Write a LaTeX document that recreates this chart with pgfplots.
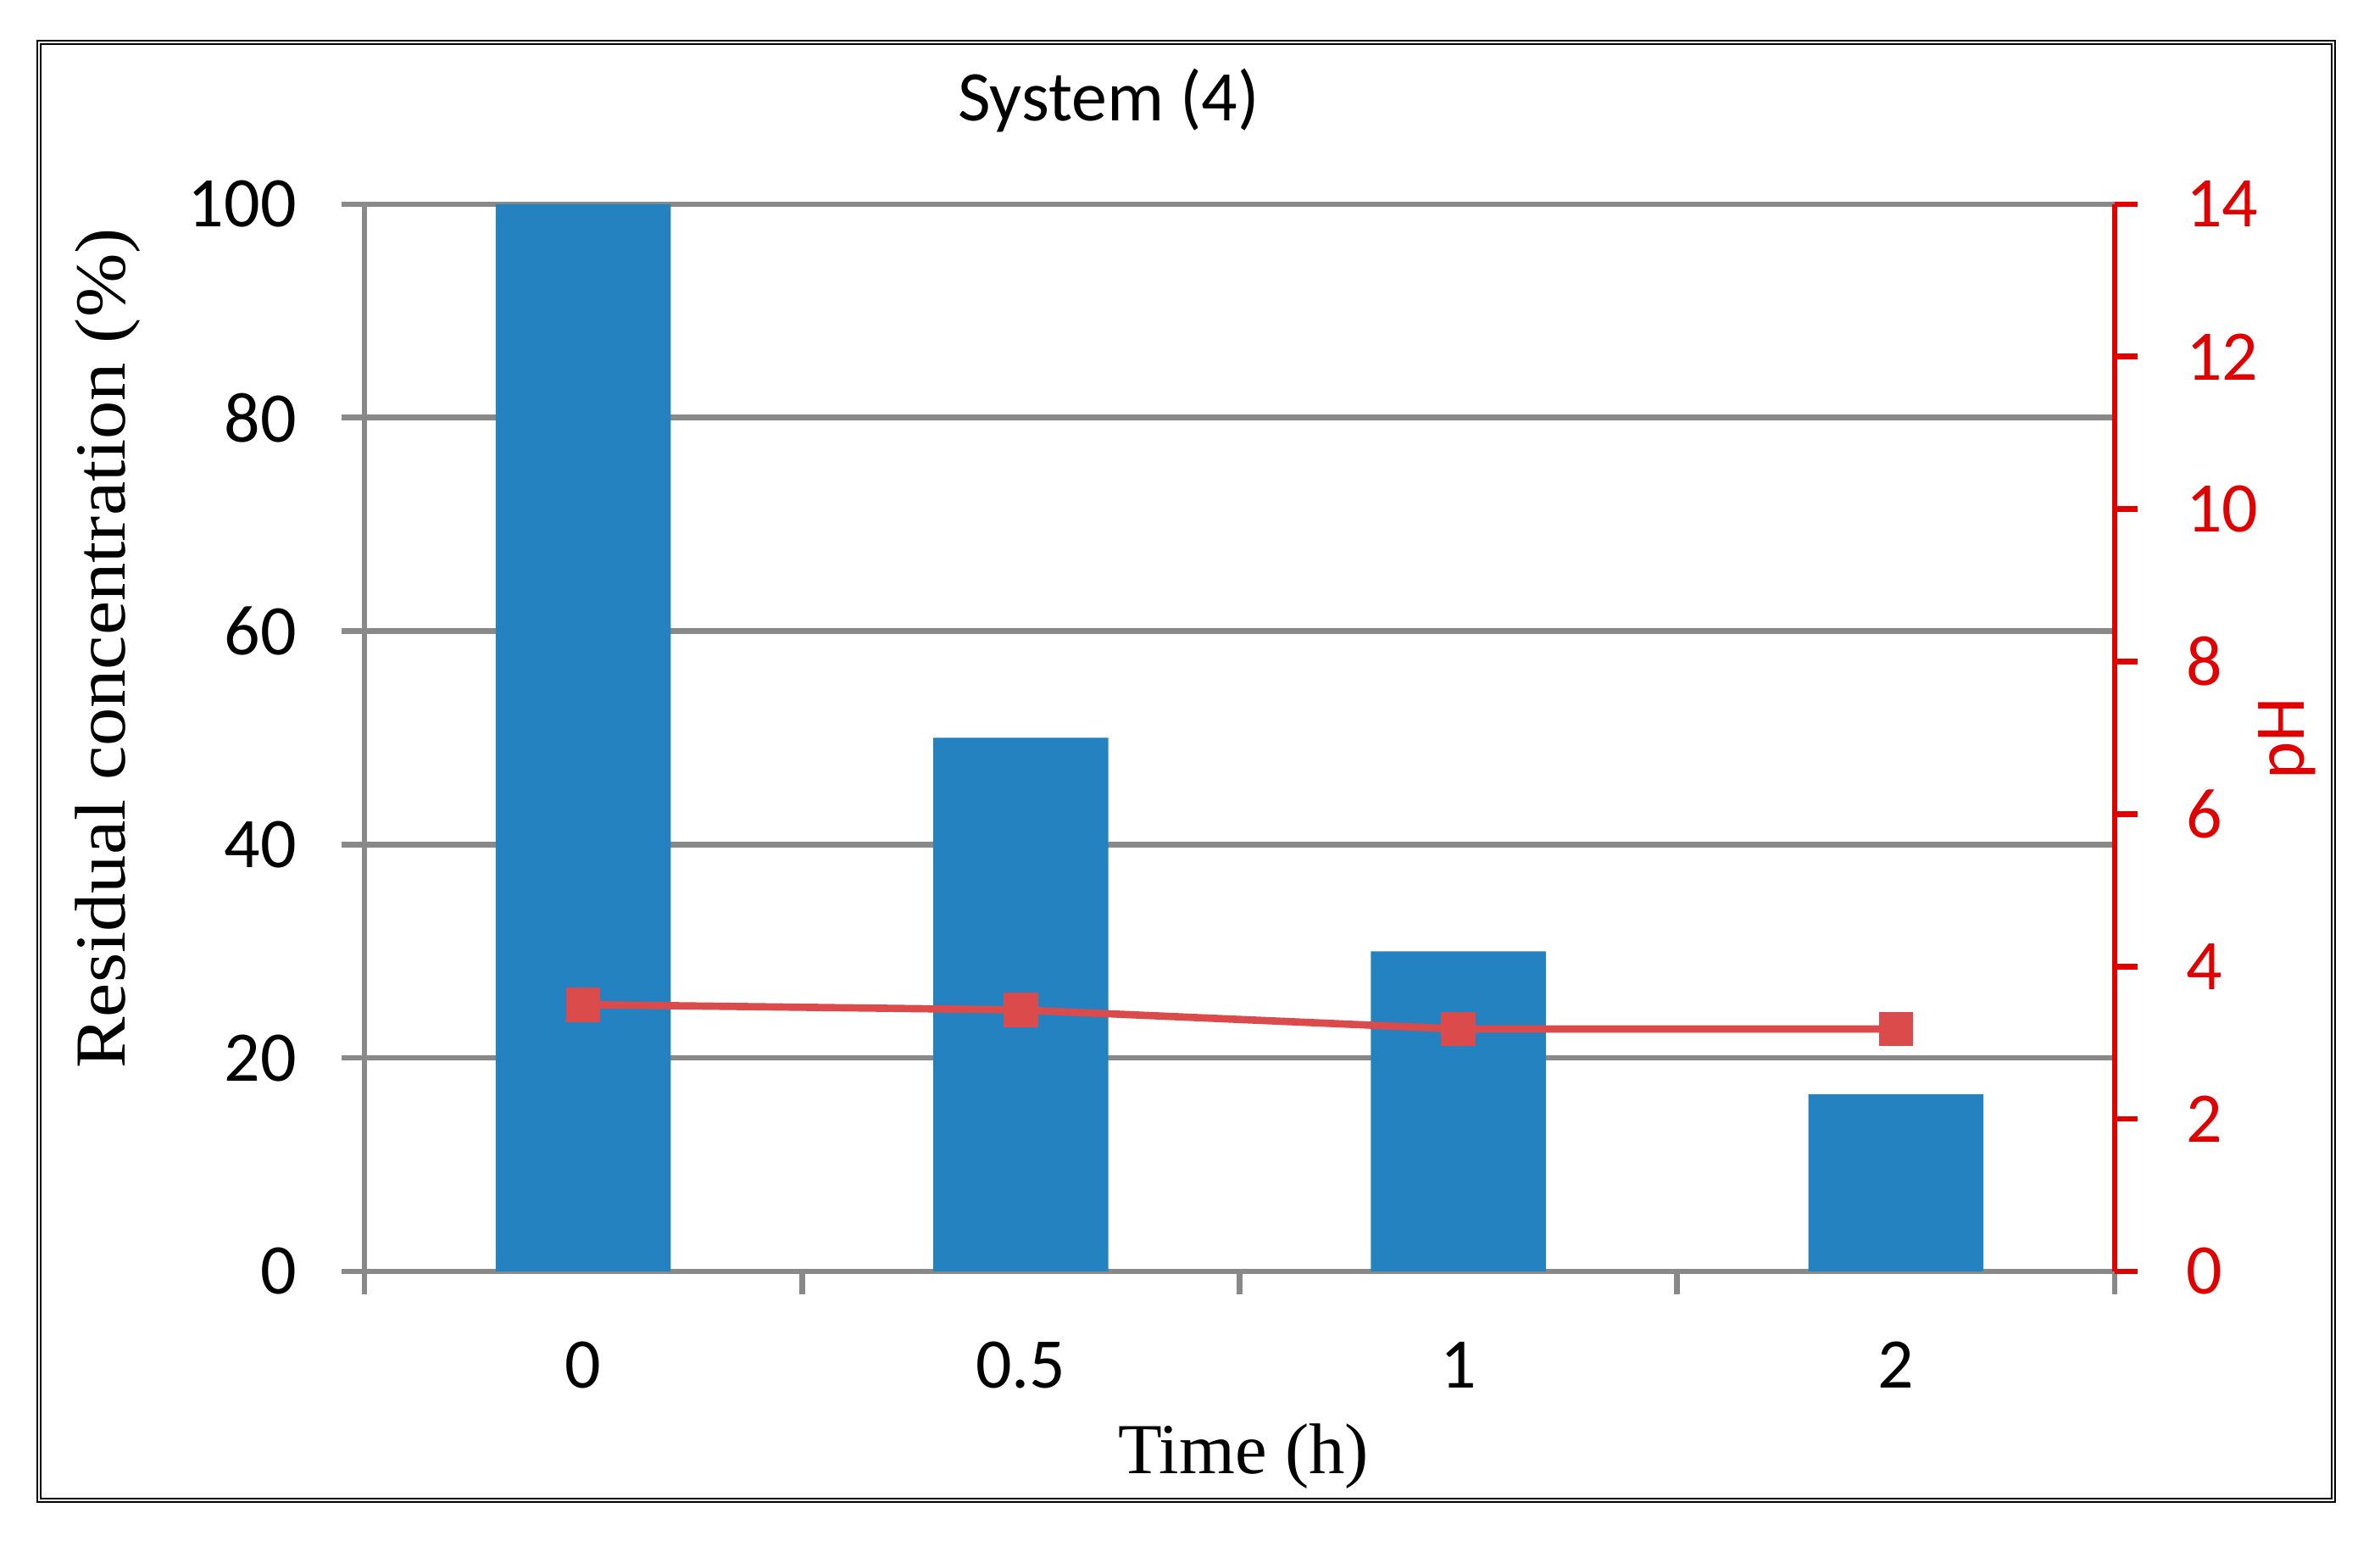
\documentclass[border=0pt]{standalone}
\usepackage{pgfplots}
\pgfplotsset{compat=1.18}
\usepackage{fontspec}
\setmainfont{Carlito}
\newfontfamily\seriffont{Liberation Serif}
\newfontfamily\serifwide[FakeStretch=1.07]{Liberation Serif}
\definecolor{barblue}{RGB}{36,130,192}
\definecolor{redline}{RGB}{220,75,75}
\definecolor{axisred}{RGB}{224,0,0}
\definecolor{gridgray}{RGB}{137,137,137}
\newcommand\tickfont{\fontsize{12.6}{15}\selectfont}
\begin{document}
\begin{tikzpicture}
\useasboundingbox (0,0) rectangle (421.2pt,274.65pt);
\draw[line width=0.3pt, double, double distance=0.3pt] (6.825pt,9.15pt) rectangle (412.875pt,267.075pt);
\begin{axis}[
  at={(64.5pt,49.65pt)}, anchor=south west, scale only axis,
  width=309.75pt, height=188.85pt,
  xmin=-0.5, xmax=3.5, ymin=0, ymax=100,
  axis y line*=left, axis x line*=bottom,
  axis line style={-, gridgray, line width=1pt},
  tick align=outside, major tick length=4pt,
  tick style={gridgray, line width=1pt},
  xtick={-0.5,0.5,1.5,2.5,3.5}, xticklabels={},
  extra x ticks={0,1,2,3}, extra x tick labels={0,0.5,1,2},
  extra x tick style={major tick length=0pt},
  ytick={0,20,...,100},
  ymajorgrids, major grid style={gridgray, line width=1pt},
  /pgf/number format/assume math mode=true,
  ticklabel style={font=\tickfont, text=black},
  yticklabel style={anchor=east, inner sep=0pt, xshift=-7.85pt},
  xticklabel style={anchor=north, inner sep=0pt, yshift=-12.3pt},
  ybar, bar width=0.4,
]
\addplot[ybar, fill=barblue, draw=none] coordinates {(0,100) (1,50) (2,30) (3,16.6)};
\end{axis}
\begin{axis}[
  at={(64.5pt,49.65pt)}, anchor=south west, scale only axis,
  width=309.75pt, height=188.85pt,
  xmin=-0.5, xmax=3.5, ymin=0, ymax=14,
  axis y line*=right, axis x line=none,
  axis line style={-, axisred, line width=1pt},
  tick align=outside, major tick length=4pt,
  ytick={0,2,...,14},
  ytick style={axisred, line width=1pt},
  /pgf/number format/assume math mode=true,
  yticklabel style={font=\tickfont, text=axisred, anchor=west, inner sep=0pt, xshift=8.45pt},
]
\addplot[redline, line width=1.3pt, mark=square*, mark size=2.4pt, mark options={fill=redline, draw=redline}] coordinates {(0,3.5) (1,3.43) (2,3.18) (3,3.18)};
\end{axis}
\node[font=\tickfont, anchor=base] at (196.2pt,253.2pt) {System (4)};
\node[font=\seriffont\fontsize{12.7}{15}\selectfont, anchor=base] at (220.05pt,13.8pt) {Time (h)};
\node[font=\serifwide\fontsize{12.7}{15}\selectfont, rotate=90, anchor=base] at (22.05pt,159.9pt) {Residual concentration (\%)};
\node[font=\tickfont, text=axisred, rotate=90, anchor=base] at (407.7pt,144pt) {pH};
\end{tikzpicture}
\end{document}
